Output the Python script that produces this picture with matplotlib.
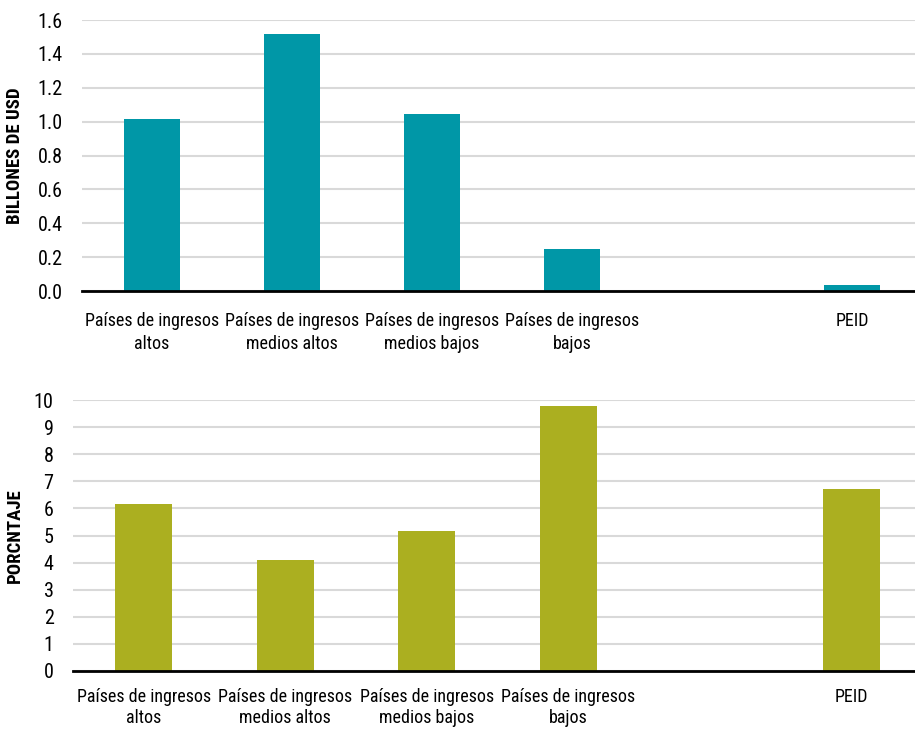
import matplotlib
matplotlib.use("Agg")
import matplotlib.pyplot as plt
from matplotlib import font_manager

names = {f.name for f in font_manager.fontManager.ttflist}
fam = [n for n in ["Roboto Condensed", "Liberation Sans Narrow", "Open Sans Condensed"] if n in names] + ["DejaVu Sans"]
plt.rcParams['font.family'] = fam

categories = ["Países de ingresos\naltos", "Países de ingresos\nmedios altos",
              "Países de ingresos\nmedios bajos", "Países de ingresos\nbajos", "", "PEID"]
usd_values = [1.015, 1.517, 1.045, 0.248, None, 0.035]
pct_values = [6.16, 4.10, 5.17, 9.78, None, 6.72]
usd_ticks = [0.0, 0.2, 0.4, 0.6, 0.8, 1.0, 1.2, 1.4, 1.6]
pct_ticks = list(range(0, 11))

W, H = 915, 729
fig = plt.figure(figsize=(W/100, H/100), dpi=100)

def setup(ax, vals, color, ticks, fmt, ylabel, xpad, lsp):
    xs = [i for i, v in enumerate(vals) if v is not None]
    hs = [v for v in vals if v is not None]
    ax.bar(xs, hs, width=0.4, color=color, zorder=3)
    ax.set_xlim(-0.5, len(categories) - 0.5)
    ax.set_ylim(ticks[0], ticks[-1])
    ax.set_yticks(ticks)
    ax.set_yticklabels([fmt(t) for t in ticks], fontsize=14.5)
    ax.set_xticks(range(len(categories)))
    ax.set_xticklabels(categories, fontsize=13, linespacing=lsp)
    ax.tick_params(axis='x', length=0, pad=xpad)
    ax.tick_params(axis='y', length=0, pad=14)
    ax.grid(axis='y', color='#D9D9D9', linewidth=1.5, zorder=0)
    for s in ['top', 'right', 'left']:
        ax.spines[s].set_visible(False)
    ax.spines['bottom'].set_linewidth(2)
    ax.spines['bottom'].set_color('black')
    ax.spines['bottom'].set_zorder(4)
    ax.set_ylabel(ylabel, fontsize=13.5, fontweight='bold')

x0a = 82 / W
x0b = 73 / W
xr = 922 / W
ax1 = fig.add_axes([x0a, 1 - 291/H, xr - x0a, (291 - 20)/H])
ax2 = fig.add_axes([x0b, 1 - 671/H, xr - x0b, (671 - 400)/H])

setup(ax1, usd_values, '#0097A7', usd_ticks, lambda t: f"{t:.1f}", "BILLONES DE USD", 15, 1.4)
setup(ax2, pct_values, '#ABAF20', pct_ticks, lambda t: f"{t:d}", "PORCNTAJE", 12, 1.25)

ax1.yaxis.set_label_coords(-(82 - 24) / ((xr - x0a) * W), 0.5)
ax2.yaxis.set_label_coords(-(73 - 24) / ((xr - x0b) * W), 0.5)

fig.savefig("out.png", dpi=100)
